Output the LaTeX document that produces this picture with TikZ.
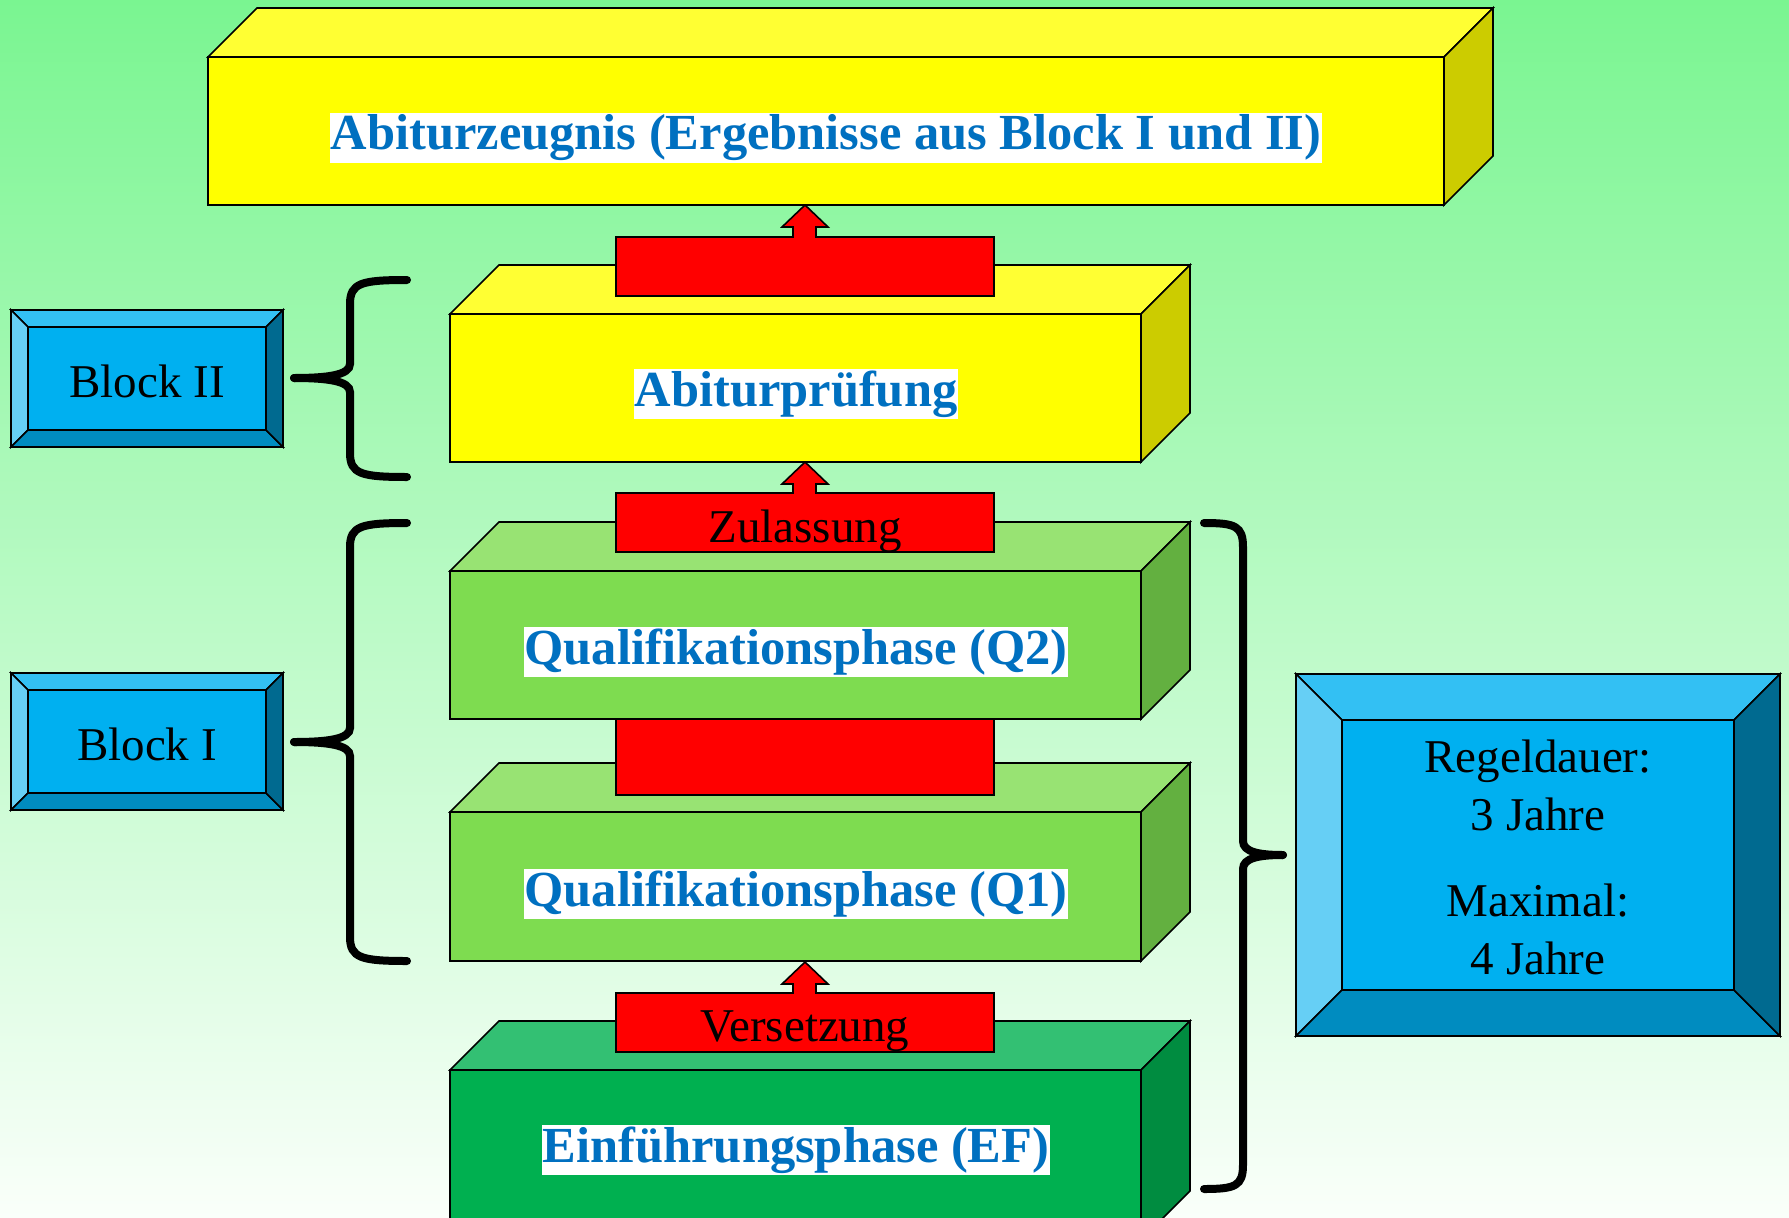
\documentclass[tikz,border=0pt]{standalone}
\usepackage{fontspec}
\setmainfont{Liberation Serif}

\definecolor{bgtop}{RGB}{122,245,145}
\definecolor{bgbot}{RGB}{250,255,250}
\definecolor{abiblue}{RGB}{0,112,192}
\definecolor{yelfront}{RGB}{255,255,0}
\definecolor{yeltop}{RGB}{255,255,51}
\definecolor{yelside}{RGB}{204,204,0}
\definecolor{qfront}{RGB}{126,220,80}
\definecolor{qtop}{RGB}{152,227,115}
\definecolor{qside}{RGB}{99,176,64}
\definecolor{effront}{RGB}{0,176,80}
\definecolor{eftop}{RGB}{51,192,115}
\definecolor{efside}{RGB}{0,140,64}
\definecolor{bluemid}{RGB}{0,176,240}
\definecolor{bluetop}{RGB}{51,192,243}
\definecolor{blueleft}{RGB}{102,207,245}
\definecolor{bluebot}{RGB}{0,140,192}
\definecolor{blueright}{RGB}{0,106,144}

% front box (x1,y1)-(x2,y2), colours front/top/side, depth 49
\newcommand{\slab}[7]{%
  \draw[rim, fill=#6] (#1,#2) -- (#1+49,#2-49) -- (#3+49,#2-49) -- (#3,#2) -- cycle;
  \draw[rim, fill=#7] (#3,#2) -- (#3+49,#2-49) -- (#3+49,#4-49) -- (#3,#4) -- cycle;
  \draw[rim, fill=#5] (#1,#2) rectangle (#3,#4);
}
% red bar with arrow: top, bottom, tip
\newcommand{\uparr}[3]{%
  \draw[rim, fill=red] (616,#1) -- (793,#1) -- (793,#3+22) -- (782,#3+22) -- (805,#3)
    -- (828,#3+22) -- (816,#3+22) -- (816,#1) -- (994,#1) -- (994,#2) -- (616,#2) -- cycle;
}
% bevelled button (x1,y1)-(x2,y2), bevel b
\newcommand{\bevel}[5]{%
  \draw[rim, fill=bluetop] (#1,#2) -- (#3,#2) -- (#3-#5,#2+#5) -- (#1+#5,#2+#5) -- cycle;
  \draw[rim, fill=blueleft] (#1,#2) -- (#1+#5,#2+#5) -- (#1+#5,#4-#5) -- (#1,#4) -- cycle;
  \draw[rim, fill=bluebot] (#1,#4) -- (#1+#5,#4-#5) -- (#3-#5,#4-#5) -- (#3,#4) -- cycle;
  \draw[rim, fill=blueright] (#3,#2) -- (#3,#4) -- (#3-#5,#4-#5) -- (#3-#5,#2+#5) -- cycle;
  \draw[rim, fill=bluemid] (#1+#5,#2+#5) rectangle (#3-#5,#4-#5);
}
% curly brace: tip x, top y, spine x, point x, point y, bottom y
\newcommand{\curly}[6]{%
  \draw[bracestroke] (#1,#2) .. controls ({#3+0.2*(#1-#3)},#2) and (#3,#2+3) .. (#3,#2+24)
    -- (#3,#5-14) .. controls (#3,#5-3) and ({#3+0.4*(#4-#3)},#5) .. (#4,#5);
  \draw[bracestroke] (#1,#6) .. controls ({#3+0.2*(#1-#3)},#6) and (#3,#6-3) .. (#3,#6-24)
    -- (#3,#5+14) .. controls (#3,#5+3) and ({#3+0.4*(#4-#3)},#5) .. (#4,#5);
}

\tikzset{
  rim/.style={line width=1.6pt, draw=black},
  bracestroke/.style={line width=8pt, line cap=round},
  phasetext/.style={fill=white, text=abiblue, inner xsep=1pt, inner ysep=2pt,
    font=\fontsize{50.5}{60}\selectfont\bfseries},
  boxtext/.style={font=\fontsize{47}{58}\selectfont, align=center},
}

\begin{document}
\begin{tikzpicture}[x=1pt,y=-1pt]
\useasboundingbox (0,0) rectangle (1789,1218);
\shade[top color=bgtop, bottom color=bgbot] (0,0) rectangle (1789,1218);

% stack, bottom first
\slab{450}{1070}{1141}{1240}{effront}{eftop}{efside}
\uparr{993}{1052}{962}
\slab{450}{812}{1141}{961}{qfront}{qtop}{qside}
\uparr{690}{795}{660}
\slab{450}{571}{1141}{719}{qfront}{qtop}{qside}
\uparr{493}{552}{462}
\slab{450}{314}{1141}{462}{yelfront}{yeltop}{yelside}
\uparr{237}{296}{205}
\slab{208}{57}{1444}{205}{yelfront}{yeltop}{yelside}

\node[phasetext] (zeugnis) at (826,138) {Abiturzeugnis (Ergebnisse aus Block I und II)};
\node[phasetext] (pruefung) at (796,394) {Abiturprüfung};
\node[phasetext] (qzwei) at (796,652) {Qualifikationsphase (Q2)};
\node[phasetext] (qeins) at (796,894) {Qualifikationsphase (Q1)};
\node[phasetext] (einf) at (796,1150) {Einführungsphase (EF)};

\node[boxtext] (zul) at (805,531) {Zulassung};
\node[boxtext] (vers) at (805,1031) {Versetzung};

% side blocks
\bevel{11}{310}{283}{447}{17}
\bevel{11}{673}{283}{810}{17}
\bevel{1296}{674}{1780}{1036}{46}
\node[boxtext] (blockzwei) at (147,381) {Block II};
\node[boxtext] (blockeins) at (147,744) {Block I};
\node[boxtext] (dauer) at (1538,857) {Regeldauer:\\3 Jahre\\[28pt]Maximal:\\4 Jahre};

% braces
\curly{407}{280}{350}{294}{378}{477}
\curly{407}{523}{350}{294}{742}{961}
\curly{1204}{523}{1243}{1283}{855}{1189}

\end{tikzpicture}
\end{document}
